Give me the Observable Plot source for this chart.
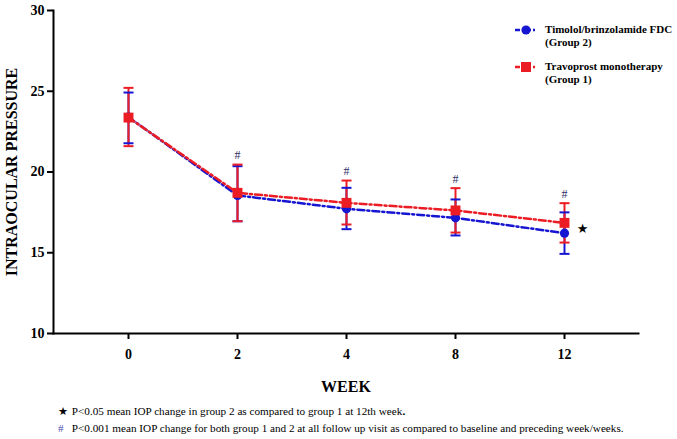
<!DOCTYPE html>
<html><head><meta charset="utf-8">
<script src="https://cdn.jsdelivr.net/npm/d3@7"></script>
<script src="https://cdn.jsdelivr.net/npm/@observablehq/plot@0.6"></script>
<style>
body{margin:0;background:#fff;}
#wrap{position:relative;width:677px;height:439px;overflow:hidden;font-family:"Liberation Serif","Times New Roman",serif;color:#000;}
#chart svg{display:block;}
.leg{position:absolute;left:514px;font-weight:bold;font-size:11px;line-height:13px;}
.leg svg{position:absolute;left:0;top:2px;}
.leg div{position:absolute;left:31px;top:0;white-space:nowrap;}
#notes{position:absolute;left:58px;top:403px;font-size:11.2px;line-height:16px;white-space:nowrap;}
#notes .sym{display:inline-block;width:11px;}
</style></head><body>
<div id="wrap"><div id="chart"></div>
<div id="legend"></div>
<div id="notes"></div>
</div>
<script>
// ---- data ----
const weeks = ["0", "2", "4", "8", "12"];
const yTicks = [10, 15, 20, 25, 30];
// Group 2: Timolol/brinzolamide FDC (blue)
const g2Mean  = [23.40, 18.55, 17.72, 17.16, 16.21];
const g2Upper = [24.92, 20.36, 19.02, 18.30, 17.50];
const g2Lower = [21.78, 16.95, 16.46, 16.07, 14.93];
// Group 1: Travoprost monotherapy (red)
const g1Mean  = [23.37, 18.71, 18.09, 17.62, 16.85];
const g1Upper = [25.21, 20.46, 19.47, 19.00, 18.07];
const g1Lower = [21.60, 16.95, 16.75, 16.25, 15.63];
// significance markers
const hashWeeks = ["2", "4", "8", "12"];
const starWeek = ["12"];
const starValue = [16.5];
const seriesNames = ["Timolol/brinzolamide FDC", "(Group 2)", "Travoprost monotherapy", "(Group 1)"];
const note1 = "P<0.05 mean IOP change in group 2 as compared to group 1 at 12th week";
const note2 = "P<0.001 mean IOP change for both group 1 and 2 at all follow up visit as compared to baseline and preceding week/weeks.";

const BLUE = "#1616d2", RED = "#ec1c24", HASH = "#2e2e66";
const DASH = "7,3,2,3";

const rows = (mean, lo, hi) => weeks.map((w, i) => ({week: w, mean: mean[i], lo: lo[i], hi: hi[i]}));
const blue = rows(g2Mean, g2Lower, g2Upper);
const red = rows(g1Mean, g1Lower, g1Upper);
const hashData = hashWeeks.map(w => {
  const i = weeks.indexOf(w);
  return {week: w, y: Math.max(g1Upper[i], g2Upper[i])};
});
const starData = starWeek.map((w, i) => ({week: w, y: starValue[i]}));

// horizontal-line symbol for error-bar caps
const capSymbol = {
  draw(context, size) {
    const r = Math.sqrt(size / Math.PI);
    context.moveTo(-r, 0);
    context.lineTo(r, 0);
  }
};
const cap = (data, key, color) => Plot.dot(data, {x: "week", y: key, r: 5, symbol: capSymbol, stroke: color, strokeWidth: 2, fill: "none"});

const chart = Plot.plot({
  width: 677, height: 398,
  marginLeft: 53, marginRight: 39, marginTop: 10, marginBottom: 65,
  style: {fontFamily: "'Liberation Serif', 'Times New Roman', serif", color: "#000", background: "transparent"},
  x: {type: "point", domain: weeks, padding: 0.66},
  y: {domain: [10, 30]},
  marks: [
    Plot.axisY({ticks: yTicks, tickSize: 6, tickPadding: 3, strokeWidth: 2, fontSize: 14, fontWeight: "bold", label: null}),
    Plot.axisX({tickSize: 6, tickPadding: 10, strokeWidth: 2, fontSize: 14, fontWeight: "bold", label: null}),
    Plot.frame({anchor: "left", strokeWidth: 2}),
    Plot.frame({anchor: "bottom", strokeWidth: 2}),
    Plot.text(["INTRAOCULAR PRESSURE"], {frameAnchor: "left", textAnchor: "middle", lineAnchor: "middle", rotate: -90, dx: -42, fontSize: 16, fontWeight: "bold", letterSpacing: 0.8}),
    Plot.text(["WEEK"], {frameAnchor: "bottom", lineAnchor: "middle", dy: 53, fontSize: 16, fontWeight: "bold"}),
    Plot.line(blue, {x: "week", y: "mean", stroke: BLUE, strokeWidth: 2.5, strokeDasharray: DASH}),
    Plot.line(red, {x: "week", y: "mean", stroke: RED, strokeWidth: 2.5, strokeDasharray: DASH}),
    Plot.ruleX(blue, {x: "week", y1: "lo", y2: "hi", stroke: BLUE, strokeWidth: 2}),
    Plot.ruleX(red, {x: "week", y1: "lo", y2: "hi", stroke: RED, strokeWidth: 2}),
    cap(blue, "lo", BLUE),
    cap(blue, "hi", BLUE),
    cap(red, "lo", RED),
    cap(red, "hi", RED),
    Plot.dot(blue, {x: "week", y: "mean", r: 4.6, fill: BLUE, symbol: "circle"}),
    Plot.dot(red, {x: "week", y: "mean", r: 5.6, fill: RED, symbol: "square"}),
    Plot.text(hashData, {x: "week", y: "y", text: () => "#", dy: -9, fontSize: 12, fill: HASH}),
    Plot.text(starData, {x: "week", y: "y", text: () => "★", dx: 18, fontSize: 13, fill: "#000", fontFamily: "DejaVu Sans"})
  ]
});
document.getElementById("chart").append(chart);

// legend
const legend = document.getElementById("legend");
function legItem(top, color, symbol, l1, l2) {
  const d = document.createElement("div");
  d.className = "leg";
  d.style.top = top + "px";
  const sym = symbol === "circle"
    ? `<circle cx="12" cy="5" r="4.6" fill="${color}"/>`
    : `<rect x="7" y="0" width="10" height="10" fill="${color}"/>`;
  d.innerHTML = `<svg width="24" height="10"><line x1="1" y1="5" x2="23" y2="5" stroke="${color}" stroke-width="2.5" stroke-dasharray="5,2,2,2"/>${sym}</svg><div>${l1}<br>${l2}</div>`;
  legend.append(d);
}
legItem(23, BLUE, "circle", seriesNames[0], seriesNames[1]);
legItem(60, RED, "square", seriesNames[2], seriesNames[3]);

// footnotes
const notes = document.getElementById("notes");
notes.innerHTML = `<div><span class="sym" style="font-family:'DejaVu Sans'">★</span> ${note1}<b>.</b></div>`
  + `<div><span class="sym" style="color:#4a4ab0">#</span> ${note2}</div>`;
</script>
</body></html>
